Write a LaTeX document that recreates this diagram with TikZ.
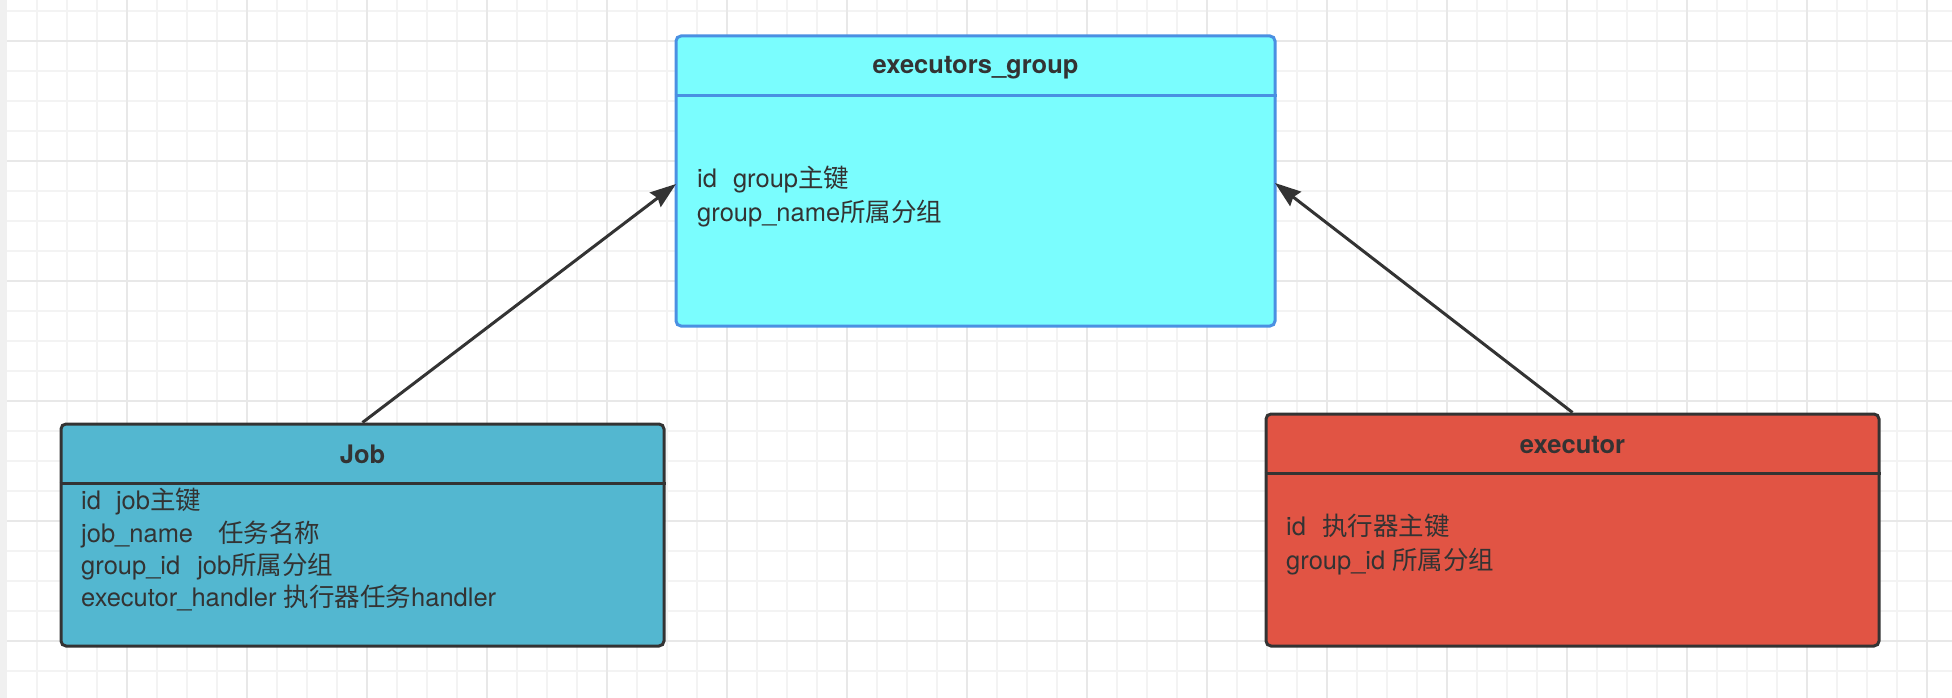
\documentclass[tikz,border=0pt]{standalone}
\usepackage{fontspec}
\setmainfont{TeX Gyre Heros}
\newfontfamily\cjkf{Noto Sans CJK SC}
\usetikzlibrary{arrows.meta,calc}
\definecolor{egfill}{HTML}{7AFDFE}
\definecolor{egborder}{HTML}{4A90E2}
\definecolor{jobfill}{HTML}{53B7D0}
\definecolor{exfill}{HTML}{E15444}
\definecolor{dark}{HTML}{333333}
\definecolor{minorgrid}{HTML}{F3F3F3}
\definecolor{majorgrid}{HTML}{E8E8E8}
\definecolor{strip}{HTML}{F0F0F0}
\tikzset{
  minorline/.style={draw=minorgrid, line width=2pt},
  majorline/.style={draw=majorgrid, line width=2pt},
  umlbox/.style={rectangle, rounded corners=5pt, line width=3pt, inner sep=0pt},
  divline/.style={line width=3pt},
  title/.style={anchor=base, text=dark, font=\fontsize{25.5}{30}\selectfont\bfseries, inner sep=0pt},
  body/.style={anchor=base west, text=dark, font=\fontsize{25.5}{30}\selectfont, inner sep=0pt},
  link/.style={draw=dark, line width=3pt, -{Stealth[length=26pt, width=18pt, inset=3pt]}}
}
\begin{document}
\begin{tikzpicture}[x=1pt,y=-1pt]
\useasboundingbox (0,0) rectangle (1952,698);
\fill[white] (0,0) rectangle (1952,698);
\fill[strip] (0,0) rectangle (7,698);
\foreach \x in {37,67,...,1950} \draw[minorline] (\x,0) -- (\x,698);
\foreach \y in {11,41,...,698} \draw[minorline] (7,\y) -- (1952,\y);
\foreach \x in {127,247,...,1950} \draw[majorline] (\x,0) -- (\x,698);
\foreach \y in {41,161,...,698} \draw[majorline] (7,\y) -- (1952,\y);

% boxes
\node[umlbox, draw=egborder, fill=egfill, minimum width=599pt, minimum height=290pt] (eg) at (975.5,181) {};
\node[umlbox, draw=dark, fill=jobfill, minimum width=603pt, minimum height=222pt] (job) at (362.5,535) {};
\node[umlbox, draw=dark, fill=exfill, minimum width=613pt, minimum height=232pt] (ex) at (1572.5,530) {};

\path (0,96) coordinate (egdiv) (0,483) coordinate (jobdiv) (0,473) coordinate (exdiv);
\draw[divline, draw=egborder] (eg.west |- egdiv) -- (eg.east |- egdiv);
\draw[divline, draw=dark] (job.west |- jobdiv) -- (job.east |- jobdiv);
\draw[divline, draw=dark] (ex.west |- exdiv) -- (ex.east |- exdiv);

% titles
\node[title] (egtitle) at (975.5,74) {executors\_group};
\node[title] (jobtitle) at (362.5,463) {Job};
\node[title] (extitle) at (1572.5,453) {executor};

% bodies
\node[body] (eg1) at (697,187) {id\hspace{16pt}group{\cjkf 主键}};
\node[body] (eg2) at (697,221) {group\_name{\cjkf 所属分组}};

\node[body] (job1) at (81,509) {id\hspace{15pt}job{\cjkf 主键}};
\node[body] (job2) at (81,542) {job\_name\hspace{25pt}{\cjkf 任务名称}};
\node[body] (job3) at (81,574) {group\_id\hspace{17pt}job{\cjkf 所属分组}};
\node[body] (job4) at (81,606) {executor\_handler {\cjkf 执行器任务}handler};

\node[body] (ex1) at (1286,535) {id\hspace{16pt}{\cjkf 执行器主键}};
\node[body] (ex2) at (1286,569) {group\_id {\cjkf 所属分组}};

% connectors
\coordinate (egL) at (676,184);
\coordinate (egR) at (1275,183);
\draw[link] (job.north) -- (egL);
\draw[link] (ex.north) -- (egR);
\end{tikzpicture}
\end{document}
